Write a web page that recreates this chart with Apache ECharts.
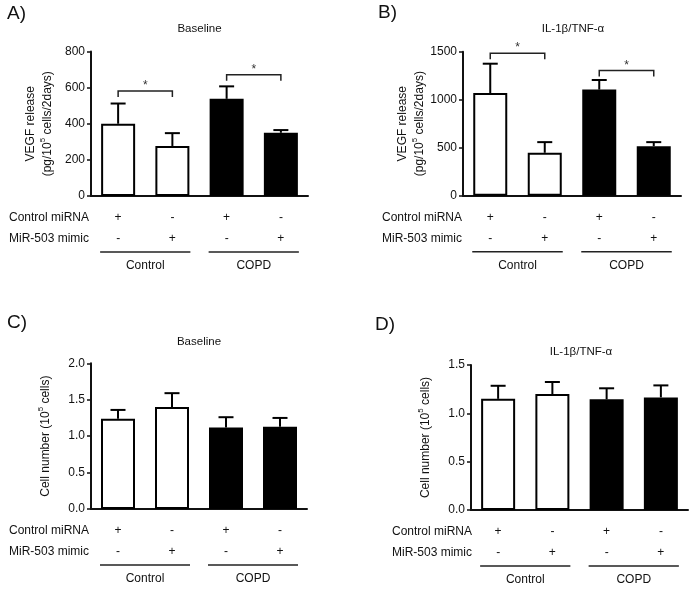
<!DOCTYPE html>
<html>
<head>
<meta charset="utf-8">
<script src="https://cdn.jsdelivr.net/npm/echarts@6/dist/echarts.min.js"></script>
<style>html,body{margin:0;padding:0;background:#fff}#c{width:696px;height:589px}</style>
</head>
<body>
<div id="c"></div>
<script>
// ---------------- data ----------------
const categories = ['Control / control miRNA', 'Control / MiR-503 mimic', 'COPD / control miRNA', 'COPD / MiR-503 mimic'];
const controlMiRNA = ['+', '-', '+', '-'];
const mir503Mimic = ['-', '+', '-', '+'];
const groupOfBar = ['Control', 'Control', 'COPD', 'COPD'];
const groupNames = ['Control', 'COPD'];
const rowHeaders = ['Control miRNA', 'MiR-503 mimic'];
const panelLetters = ['A)', 'B)', 'C)', 'D)'];
const panelTitles = ['Baseline', 'IL-1β/TNF-α', 'Baseline', 'IL-1β/TNF-α'];

const vegfBaseline = [400, 277, 538, 350];
const vegfBaselineSem = [112, 71, 69, 15];
const vegfCytokine = [1070, 447, 1105, 516];
const vegfCytokineSem = [305, 111, 100, 42];
const cellsBaseline = [1.24, 1.40, 1.12, 1.13];
const cellsBaselineSem = [0.12, 0.19, 0.14, 0.12];
const cellsCytokine = [1.15, 1.20, 1.145, 1.165];
const cellsCytokineSem = [0.135, 0.124, 0.114, 0.124];

const yTicksVegfBaseline = [0, 200, 400, 600, 800];
const yTicksVegfCytokine = [0, 500, 1000, 1500];
const yTicksCellsBaseline = [0, 0.5, 1.0, 1.5, 2.0];
const yTicksCellsCytokine = [0, 0.5, 1.0, 1.5];

// significance brackets: [from bar, to bar, bracket level]
const sigVegfBaseline = [[0, 1, 582], [2, 3, 671]];
const sigVegfCytokine = [[0, 1, 1485], [2, 3, 1305]];

// ---------------- styling / layout ----------------
const FONT = "'Liberation Sans', Arial, Helvetica, sans-serif";
const groupFill = { 'Control': '#ffffff', 'COPD': '#000000' };
const vegfName = '{a|VEGF release}\n{a|(pg/10}{s|5}{a| cells/2days)}';
const cellName = '{a|Cell number (10}{s|5}{a| cells)}';

const panels = [
  { grid: { left: 91, top: 51.5, width: 217, height: 144.5 }, values: vegfBaseline, sem: vegfBaselineSem, ticks: yTicksVegfBaseline, sig: sigVegfBaseline, name: vegfName, nameGap: 35, dec: 0,
    letter: [7, 14], title: [199.5, 29], headerX: 9 },
  { grid: { left: 463, top: 51.7, width: 218, height: 144 }, values: vegfCytokine, sem: vegfCytokineSem, ticks: yTicksVegfCytokine, sig: sigVegfCytokine, name: vegfName, nameGap: 35, dec: 0,
    letter: [378, 13], title: [573, 29], headerX: 382 },
  { grid: { left: 91, top: 363.3, width: 216, height: 145.7 }, values: cellsBaseline, sem: cellsBaselineSem, ticks: yTicksCellsBaseline, sig: [], name: cellName, nameGap: 37, dec: 1,
    letter: [7, 323], title: [199, 342], headerX: 9 },
  { grid: { left: 471, top: 365, width: 217, height: 145 }, values: cellsCytokine, sem: cellsCytokineSem, ticks: yTicksCellsCytokine, sig: [], name: cellName, nameGap: 37, dec: 1,
    letter: [375, 325], title: [581, 352], headerX: 392 }
];

const chart = echarts.init(document.getElementById('c'), null, { renderer: 'canvas' });

const grids = [], xAxes = [], yAxes = [], series = [];
panels.forEach((p, g) => {
  grids.push(Object.assign({ containLabel: false }, p.grid));
  xAxes.push({
    gridIndex: g, type: 'category', data: categories, boundaryGap: true,
    axisLine: { lineStyle: { color: '#111', width: 2 } },
    axisTick: { alignWithLabel: true, length: 4, lineStyle: { color: '#111', width: 1.5 } },
    axisLabel: {
      margin: 11, fontSize: 12, lineHeight: 21, color: '#111', fontFamily: FONT,
      formatter: (v, idx) => controlMiRNA[idx] + '\n' + mir503Mimic[idx]
    },
    splitLine: { show: false }
  });
  const step = p.ticks[1] - p.ticks[0];
  yAxes.push({
    gridIndex: g, type: 'value', min: p.ticks[0], max: p.ticks[p.ticks.length - 1], interval: step,
    axisLine: { show: true, lineStyle: { color: '#111', width: 2 } },
    axisTick: { show: true, length: 4, lineStyle: { color: '#111', width: 1.5 } },
    axisLabel: { margin: 6, fontSize: 12, color: '#111', fontFamily: FONT, formatter: v => v.toFixed(p.dec) },
    splitLine: { show: false },
    name: p.name, nameLocation: 'middle', nameGap: p.nameGap,
    nameTextStyle: {
      color: '#111', fontFamily: FONT,
      rich: {
        a: { fontSize: 12, lineHeight: 17, fontFamily: FONT, color: '#111' },
        s: { fontSize: 8, lineHeight: 10, verticalAlign: 'top', fontFamily: FONT, color: '#111' }
      }
    }
  });
  series.push({
    type: 'bar', xAxisIndex: g, yAxisIndex: g, barWidth: 34, z: 2,
    data: p.values.map((v, i) => ({
      value: v,
      itemStyle: { color: groupFill[groupOfBar[i]], borderColor: '#000', borderWidth: 2 }
    }))
  });
  series.push({
    type: 'custom', xAxisIndex: g, yAxisIndex: g, z: 3,
    data: p.values.map((v, i) => [i, v, p.sem[i]]),
    encode: { x: 0, y: 1 },
    renderItem: (params, api) => {
      const i = api.value(0), v = api.value(1), e = api.value(2);
      const a = api.coord([i, v]);
      const b = api.coord([i, v + e]);
      const hw = 7.5;
      return {
        type: 'group', children: [
          { type: 'line', shape: { x1: a[0], y1: a[1], x2: b[0], y2: b[1] }, style: { stroke: '#000', lineWidth: 2 } },
          { type: 'line', shape: { x1: b[0] - hw, y1: b[1], x2: b[0] + hw, y2: b[1] }, style: { stroke: '#000', lineWidth: 2 } }
        ]
      };
    }
  });
  if (p.sig.length) {
    series.push({
      type: 'custom', xAxisIndex: g, yAxisIndex: g, z: 4,
      data: p.sig,
      encode: { x: [0, 1], y: 2 },
      renderItem: (params, api) => {
        const a = api.coord([api.value(0), api.value(2)]);
        const b = api.coord([api.value(1), api.value(2)]);
        const drop = 6;
        return {
          type: 'group', children: [
            { type: 'polyline', shape: { points: [[a[0], a[1] + drop], [a[0], a[1]], [b[0], b[1]], [b[0], b[1] + drop]] },
              style: { stroke: '#222', lineWidth: 1.5, fill: null } },
            { type: 'text', style: { text: '*', x: (a[0] + b[0]) / 2, y: a[1] - 5, align: 'center', verticalAlign: 'middle',
              fontSize: 12, fontFamily: FONT, fill: '#333' } }
          ]
        };
      }
    });
  }
});

chart.setOption({
  animation: false,
  backgroundColor: '#ffffff',
  textStyle: { fontFamily: FONT },
  grid: grids, xAxis: xAxes, yAxis: yAxes, series: series
});

// annotations positioned from the library's own scales
const graphics = [];
panels.forEach((p, g) => {
  const axisY = chart.convertToPixel({ gridIndex: g }, [0, 0])[1];
  const cx = categories.map((c, i) => chart.convertToPixel({ gridIndex: g }, [i, 0])[0]);
  const halfBar = 18;
  graphics.push({ type: 'text', x: p.letter[0], y: p.letter[1],
    style: { text: panelLetters[g], fontSize: 19, fontFamily: FONT, fill: '#111', align: 'left', verticalAlign: 'middle' } });
  graphics.push({ type: 'text', x: p.title[0], y: p.title[1],
    style: { text: panelTitles[g], fontSize: 11.5, fontFamily: FONT, fill: '#111', align: 'center', verticalAlign: 'middle' } });
  rowHeaders.forEach((h, r) => {
    graphics.push({ type: 'text', x: p.headerX, y: axisY + 22 + r * 21,
      style: { text: h, fontSize: 12, fontFamily: FONT, fill: '#111', align: 'left', verticalAlign: 'middle' } });
  });
  groupNames.forEach(gn => {
    const idx = groupOfBar.map((x, i) => x === gn ? i : -1).filter(i => i >= 0);
    const x1 = cx[idx[0]] - halfBar, x2 = cx[idx[idx.length - 1]] + halfBar;
    graphics.push({ type: 'line', shape: { x1: x1, y1: axisY + 56, x2: x2, y2: axisY + 56 }, style: { stroke: '#222', lineWidth: 1.5 } });
    graphics.push({ type: 'text', x: (x1 + x2) / 2, y: axisY + 70,
      style: { text: gn, fontSize: 12, fontFamily: FONT, fill: '#111', align: 'center', verticalAlign: 'middle' } });
  });
});
chart.setOption({ graphic: graphics });
</script>
</body>
</html>
